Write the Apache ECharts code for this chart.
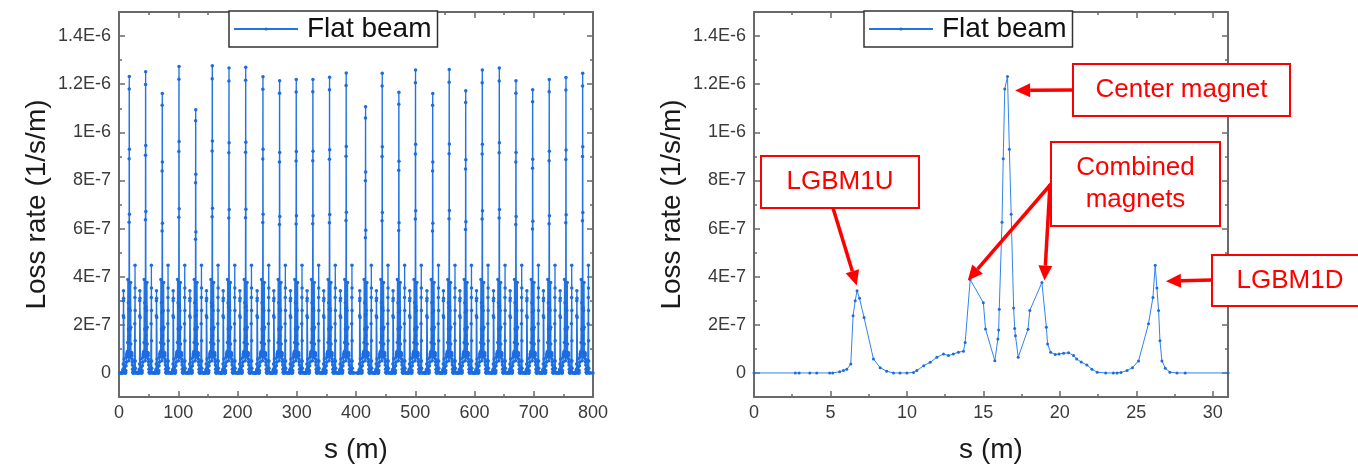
<!DOCTYPE html>
<html><head><meta charset="utf-8">
<script src="https://cdn.jsdelivr.net/npm/echarts@6/dist/echarts.min.js"></script>
<style>html,body{margin:0;padding:0;background:#fff}#c{width:1358px;height:469px}</style>
</head><body><div id="c"></div>
<script>
// ---- DATA (loss rate in units of 1e-7 1/s/m) ----
// Right panel: one 31 m section, read point by point
const sectionS = [0,2.7,2.95,3.65,4.1,4.95,5.15,5.6,5.85,6.07,6.33,6.48,6.62,6.74,6.9,7.2,7.81,8.25,8.68,9.12,9.55,10.0,10.43,10.65,11.1,11.52,11.96,12.39,12.72,13.04,13.37,13.7,13.81,14.14,15.0,15.14,15.75,15.95,16.0,16.04,16.22,16.3,16.4,16.58,16.7,16.82,16.98,17.05,17.1,17.28,17.92,18.04,18.83,19.12,19.2,19.4,19.7,19.95,20.25,20.57,20.9,21.1,21.4,21.77,22.1,22.45,23.0,23.5,23.75,24.0,24.4,24.75,25.15,25.8,26.09,26.24,26.35,26.46,26.55,26.68,26.9,27.2,27.66,28.2,31];
const sectionRate = [0,0,0,0,0,0,0,0.05,0.1,0.15,0.37,2.38,3.0,3.42,3.1,2.3,0.58,0.22,0.07,0,0,0,0.02,0.1,0.3,0.44,0.65,0.79,0.72,0.79,0.86,0.9,1.27,3.88,2.92,1.83,0.51,1.41,1.78,2.65,6.26,8.9,11.8,12.32,9.3,6.6,2.7,1.85,1.55,0.65,1.82,2.6,3.76,1.9,1.2,0.86,0.77,0.79,0.82,0.84,0.72,0.58,0.45,0.33,0.15,0.03,0,0,0,0.02,0.1,0.22,0.5,2.04,3.14,4.48,3.53,2.59,1.34,0.5,0.2,0.03,0,0,0];
// Left panel: position and height of the center-magnet peak in each cell of the ring
const cellPeakS = [17.4,45.0,73.1,101.3,129.5,157.5,185.7,213.9,243.0,271.1,299.2,327.3,355.4,383.5,416.2,444.3,472.4,500.5,529.5,557.4,585.2,613.2,641.9,670.0,698.2,726.2,754.4,782.6];
const cellPeakRate = [12.32,12.52,11.61,12.74,10.94,12.77,12.67,12.70,12.31,12.14,12.19,12.20,12.29,12.47,11.06,12.45,11.66,12.59,11.61,12.61,11.73,12.59,12.67,12.14,11.77,12.20,12.28,12.45];
// Axis ticks
const ringTicks = [0,100,200,300,400,500,600,700,800];
const ringMinor = [50,150,250,350,450,550,650,750];
const zoomTicks = [0,5,10,15,20,25,30];
const zoomMinor = [2.5,7.5,12.5,17.5,22.5,27.5];
const yTicks = [0,2,4,6,8,10,12,14];
const yTickLabels = ['0','2E-7','4E-7','6E-7','8E-7','1E-6','1.2E-6','1.4E-6'];
const yMinor = [1,3,5,7,9,11,13];
const seriesName = 'Flat beam';

// Ring data: every cell carries the measured section profile, with its own measured center peak
const sectionPeakS = 16.58, sectionPeak = 12.32;
const ringData = [];
cellPeakS.forEach((c, i) => {
  const lo = i === 0 ? -Infinity : (cellPeakS[i-1] + c) / 2 - c;
  const hi = i === cellPeakS.length - 1 ? Infinity : (cellPeakS[i+1] + c) / 2 - c;
  for (let k = 0; k < sectionS.length; k++) {
    const rel = sectionS[k] - sectionPeakS;
    if (rel < lo || rel >= hi) continue;
    const s = c + rel;
    if (s < 0 || s > 800) continue;
    let v = sectionRate[k];
    if (sectionS[k] >= 16.04 && sectionS[k] <= 16.98) v = v * cellPeakRate[i] / sectionPeak;
    ringData.push([s, v]);
  }
});
ringData.push([800, 0]);
const zoomData = sectionS.map((s, k) => [s, sectionRate[k]]);

// ---- STYLE ----
const FONT = '"Liberation Sans", Arial, sans-serif';
const AXIS_COLOR = '#6a6a6a';
const LINE_COLOR = '#3383ea';
const MARK_COLOR = '#1c6ce0';
const RED = '#ff0000';

function xAx(grid, pos, max, vals, major, labels, name) {
  return {
    type: 'value', gridIndex: grid, position: pos, min: 0, max: max,
    axisLine: { show: major, onZero: false, lineStyle: { color: AXIS_COLOR, width: 2 } },
    axisTick: { show: true, inside: true, length: major ? 6 : 3, customValues: vals, lineStyle: { color: AXIS_COLOR, width: 1.5 } },
    axisLabel: labels ? { show: true, customValues: vals, fontSize: 18, fontFamily: FONT, color: '#3a3a3a', margin: 7 } : { show: false },
    splitLine: { show: false },
    name: name || '', nameLocation: 'middle', nameGap: 39,
    nameTextStyle: { fontSize: 28, fontFamily: FONT, color: '#1a1a1a' }
  };
}
function yAx(grid, pos, vals, major, labels, name) {
  return {
    type: 'value', gridIndex: grid, position: pos, min: -1, max: 15,
    axisLine: { show: major, onZero: false, lineStyle: { color: AXIS_COLOR, width: 2 } },
    axisTick: { show: true, inside: true, length: major ? 6 : 3, customValues: vals, lineStyle: { color: AXIS_COLOR, width: 1.5 } },
    axisLabel: labels ? { show: true, customValues: vals, fontSize: 18, fontFamily: FONT, color: '#3a3a3a', margin: 8,
      formatter: v => { const i = yTicks.findIndex(t => Math.abs(t - v) < 1e-6); return i >= 0 ? yTickLabels[i] : ''; } } : { show: false },
    splitLine: { show: false },
    name: name || '', nameLocation: 'middle', nameGap: 68,
    nameTextStyle: { fontSize: 28, fontFamily: FONT, color: '#1a1a1a' }
  };
}
const xAxes = [], yAxes = [];
[[800, ringTicks, ringMinor], [31, zoomTicks, zoomMinor]].forEach(([mx, maj, mnr], g) => {
  xAxes.push(xAx(g, 'bottom', mx, maj, true, true, 's (m)'));
  xAxes.push(xAx(g, 'bottom', mx, mnr, false, false));
  xAxes.push(xAx(g, 'top', mx, maj, true, false));
  xAxes.push(xAx(g, 'top', mx, mnr, false, false));
  yAxes.push(yAx(g, 'left', yTicks, true, true, 'Loss rate (1/s/m)'));
  yAxes.push(yAx(g, 'left', yMinor, false, false));
  yAxes.push(yAx(g, 'right', yTicks, true, false));
  yAxes.push(yAx(g, 'right', yMinor, false, false));
});

function lineSeries(data, axisIdx, lw, ms, lc) {
  return {
    type: 'line', name: seriesName, data: data, xAxisIndex: axisIdx, yAxisIndex: axisIdx,
    symbol: 'circle', symbolSize: ms, showSymbol: true,
    lineStyle: { color: lc, width: lw }, itemStyle: { color: MARK_COLOR },
    emphasis: { disabled: true }, animation: false, clip: true
  };
}
function legend(left) {
  return {
    left: left, top: 11, orient: 'horizontal', data: [seriesName],
    padding: [4, 6, 4, 4], itemWidth: 64, itemHeight: 4,
    borderColor: '#333', borderWidth: 1.5, backgroundColor: '#fff',
    textStyle: { fontSize: 28, fontFamily: FONT, color: '#111', padding: [0, 0, 0, 4] },
    selectedMode: false
  };
}

const chart = echarts.init(document.getElementById('c'));
chart.setOption({
  animation: false,
  backgroundColor: '#fff',
  grid: [
    { left: 119, top: 12, width: 474, height: 385 },
    { left: 754, top: 12, width: 474, height: 385 }
  ],
  xAxis: xAxes, yAxis: yAxes,
  legend: [legend(229), legend(864)],
  series: [lineSeries(ringData, 0, 1.3, 3.5, '#2274e4'), lineSeries(zoomData, 4, 1, 3, LINE_COLOR)]
});

// ---- ANNOTATIONS (right panel) ----
const annotations = [
  { text: 'Center magnet', box: [1073, 64, 217, 52], arrows: [{ from: [1073, 90], tip: [17.08, 11.74] }] },
  { text: 'Combined\nmagnets', box: [1051, 142, 169, 84], arrows: [{ from: [1051, 184], tip: [13.98, 3.84] }, { from: [1050, 184], tip: [19.0, 3.84] }] },
  { text: 'LGBM1U', box: [761, 156, 158, 52], arrows: [{ from: [833, 208], tip: [6.72, 3.63] }] },
  { text: 'LGBM1D', box: [1212, 255, 156, 51], arrows: [{ from: [1212, 280], tip: [26.94, 3.81] }] }
];
function arrowEls(x1, y1, x2, y2) {
  const dx = x2 - x1, dy = y2 - y1, L = Math.hypot(dx, dy), ux = dx / L, uy = dy / L;
  const hl = 15, hw = 7;
  const bx = x2 - ux * hl, by = y2 - uy * hl;
  return [
    { type: 'line', shape: { x1: x1, y1: y1, x2: bx, y2: by }, style: { stroke: RED, lineWidth: 3.5 }, z: 100 },
    { type: 'polygon', shape: { points: [[x2, y2], [bx - uy * hw, by + ux * hw], [bx + uy * hw, by - ux * hw]] }, style: { fill: RED }, z: 100 }
  ];
}
const gEls = [];
annotations.forEach(a => {
  const [bx, by, bw, bh] = a.box;
  gEls.push({ type: 'rect', shape: { x: bx, y: by, width: bw, height: bh }, style: { fill: '#fff', stroke: RED, lineWidth: 2 }, z: 100 });
  gEls.push({ type: 'text', x: bx + bw / 2, y: by + bh / 2, style: { text: a.text, fill: RED, font: '26px ' + FONT, align: 'center', verticalAlign: 'middle', lineHeight: 32 }, z: 101 });
  a.arrows.forEach(ar => {
    const p = chart.convertToPixel({ xAxisIndex: 4, yAxisIndex: 4 }, ar.tip);
    arrowEls(ar.from[0], ar.from[1], p[0], p[1]).forEach(e => gEls.push(e));
  });
});
chart.setOption({ graphic: gEls });
</script></body></html>
